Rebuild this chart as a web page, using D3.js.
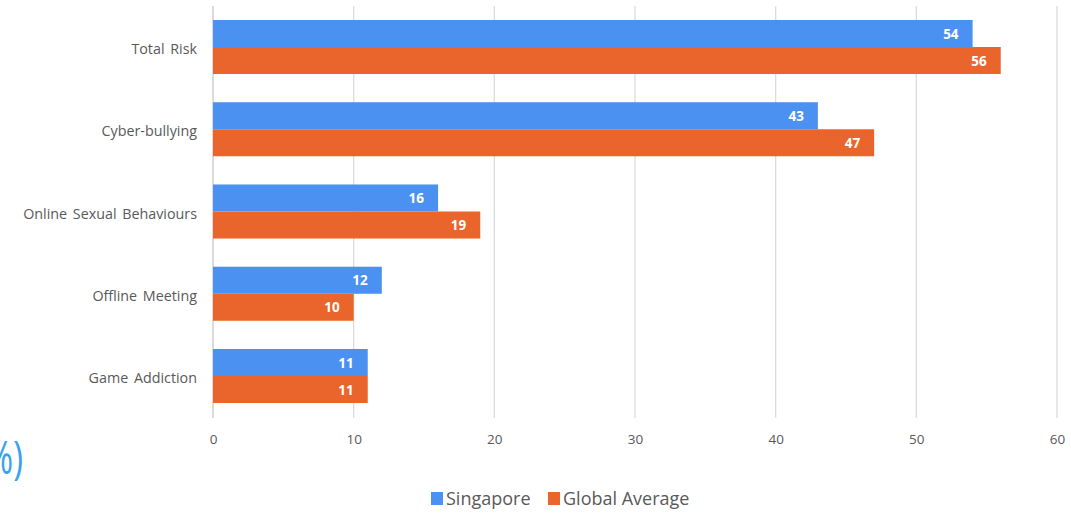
<!DOCTYPE html>
<html><head><meta charset="utf-8">
<script src="https://cdn.jsdelivr.net/npm/d3@7"></script>
<style>body{margin:0;background:#fff;} text{font-family:"Open Sans", Lato, sans-serif;}</style>
</head><body>
<svg id="c" width="1071" height="513"></svg>
<script>
const categories = ["Total Risk","Cyber-bullying","Online Sexual Behaviours","Offline Meeting","Game Addiction"];
const seriesNames = ["Singapore","Global Average"];
const singapore = [54,43,16,12,11];
const globalAvg = [56,47,19,10,11];
const xTicks = [0,10,20,30,40,50,60];
const colors = ["#4b91f1","#e9652b"];

const svg = d3.select("#c");
const x = d3.scaleLinear().domain([0,60]).range([213,1057]);
const y = d3.scaleBand().domain(categories).range([6,417]).paddingInner(0.343).paddingOuter(0.17);
const sub = d3.scaleBand().domain(seriesNames).range([0,y.bandwidth()]);

// gridlines
svg.append("g").selectAll("line").data(xTicks).join("line")
  .attr("x1",d=>x(d)).attr("x2",d=>x(d)).attr("y1",6).attr("y2",418)
  .attr("stroke",d=>d===0?"#c8c8c8":"#dcdcdc").attr("stroke-width",1.3);

// x tick labels via axis
const xa = svg.append("g").attr("transform","translate(0,418)")
  .call(d3.axisBottom(x).tickValues(xTicks).tickSize(0).tickPadding(16));
xa.select(".domain").remove();
xa.selectAll("text").attr("font-size",13.5).attr("fill","#595959").attr("font-family","'Open Sans', sans-serif");

// y labels
const ya = svg.append("g").attr("transform","translate(213,0)")
  .call(d3.axisLeft(y).tickSize(0).tickPadding(16));
ya.select(".domain").remove();
ya.selectAll("text").attr("font-size",14.3).attr("fill","#595959").attr("font-family","'Open Sans', sans-serif")
  .attr("dy","0.5em").style("word-spacing","2px");

const data = categories.map((c,i)=>({c, vals:[{s:seriesNames[0],v:singapore[i],k:0},{s:seriesNames[1],v:globalAvg[i],k:1}]}));
const g = svg.append("g").selectAll("g").data(data).join("g").attr("transform",d=>`translate(0,${y(d.c)})`);
g.selectAll("rect").data(d=>d.vals).join("rect")
  .attr("x",x(0)).attr("y",d=>sub(d.s)).attr("width",d=>x(d.v)-x(0)).attr("height",sub.bandwidth())
  .attr("fill",d=>colors[d.k]);
g.selectAll("text.v").data(d=>d.vals).join("text").attr("class","v")
  .attr("x",d=>x(d.v)-14).attr("y",d=>sub(d.s)+sub.bandwidth()/2).attr("dy","0.38em")
  .attr("text-anchor","end").attr("font-size",13.5).attr("font-weight","bold").attr("fill","#fff")
  .text(d=>d.v);

// legend
const lg = svg.append("g");
const lx = [431,548];
seriesNames.forEach((s,i)=>{
  lg.append("rect").attr("x",lx[i]).attr("y",492).attr("width",12).attr("height",13).attr("fill",colors[i]);
  lg.append("text").attr("x",lx[i]+15).attr("y",499).attr("dy","0.36em").attr("font-size",18).attr("fill","#595959").text(s);
});

// partial unit label at left
svg.append("text").attr("text-anchor","end").attr("font-size",46)
  .attr("fill","#36a3ec").attr("font-family","'Open Sans', sans-serif")
  .attr("transform","translate(23,474) scale(0.72,1)")
  .text("(%)");
</script>
</body></html>
